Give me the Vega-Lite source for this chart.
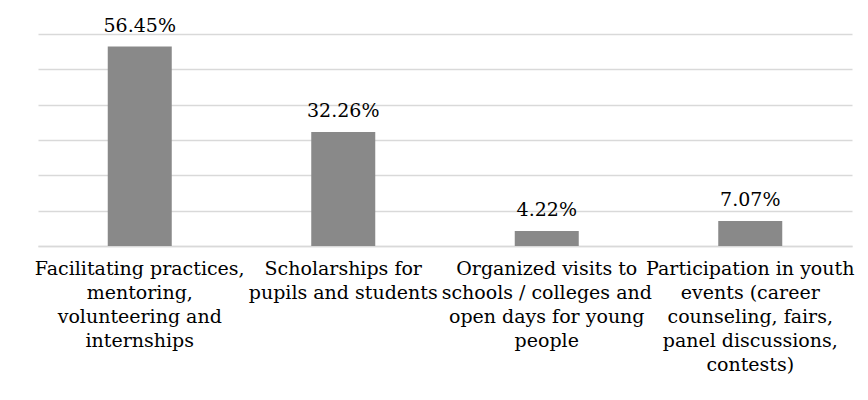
{
  "$schema": "https://vega.github.io/schema/vega-lite/v6.json",
  "autosize": "none",
  "width": 814,
  "height": 212,
  "padding": {"left": 38, "top": 34, "right": 16, "bottom": 154},
  "background": "white",
  "config": {"view": {"stroke": null}, "font": "DejaVu Serif"},
  "data": {"values": [
    {"category": "Facilitating practices,|mentoring,|volunteering and|internships", "share": 0.5645},
    {"category": "Scholarships for|pupils and students", "share": 0.3226},
    {"category": "Organized visits to|schools / colleges and|open days for young|people", "share": 0.0422},
    {"category": "Participation in youth|events (career|counseling, fairs,|panel discussions,|contests)", "share": 0.0707}
  ]},
  "encoding": {
    "x": {"field": "category", "type": "nominal", "sort": null,
      "scale": {"paddingInner": 0, "paddingOuter": 0},
      "axis": {"title": null, "labelAngle": 0, "labelAlign": "center", "labelBaseline": "top",
        "labelExpr": "split(datum.label, '|')", "labelFontSize": 19, "labelLineHeight": 24,
        "labelColor": "#000000", "labelLimit": 0, "labelPadding": 13, "ticks": false,
        "domainColor": "#d9d9d9", "domainWidth": 1.5, "labelFont": "DejaVu Serif"}},
    "y": {"field": "share", "type": "quantitative",
      "scale": {"domain": [0, 0.6], "nice": false},
      "axis": {"title": null, "labels": false, "ticks": false, "domain": false,
        "values": [0, 0.1, 0.2, 0.3, 0.4, 0.5, 0.6], "gridColor": "#d9d9d9", "gridWidth": 1.5}}
  },
  "layer": [
    {"mark": {"type": "bar", "color": "#898989", "size": 64}},
    {"mark": {"type": "text", "baseline": "alphabetic", "dy": -15, "fontSize": 19, "color": "#000000", "font": "DejaVu Serif"},
      "encoding": {"text": {"field": "share", "type": "quantitative", "format": ".2%"}}}
  ]
}
